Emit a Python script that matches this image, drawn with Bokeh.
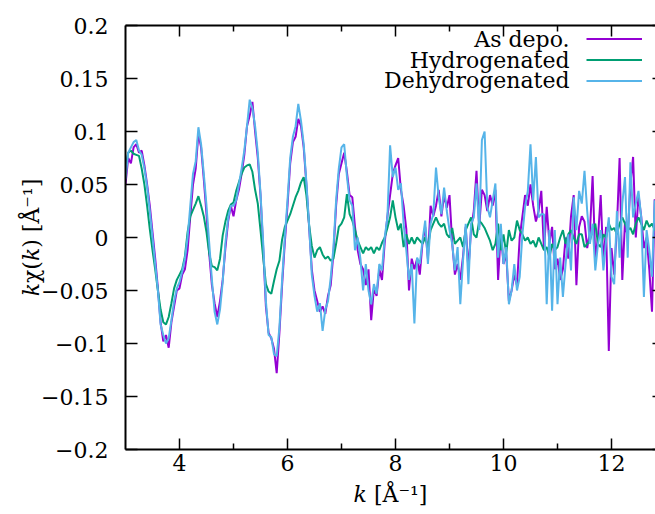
from bokeh.plotting import figure
from bokeh.models import LinearAxis, FixedTicker, Range1d, Label, Legend, LegendItem
from bokeh.embed import file_html
from bokeh.resources import INLINE

# k grid: spectra sampled every 0.05 1/Angstrom starting at k = 3
k_start = 3.0
k_step = 0.05

as_depo = [
    0.050, 0.075, 0.070, 0.085, 0.088, 0.080, 0.082, 0.068, 0.050, 0.030,
    0.005, -0.020, -0.048, -0.080, -0.098, -0.092, -0.104, -0.080, -0.065, -0.050,
    -0.048, -0.035, -0.030, -0.012, 0.020, 0.050, 0.065, 0.098, 0.085, 0.055,
    0.022, -0.015, -0.045, -0.062, -0.075, -0.060, -0.040, -0.010, 0.015, 0.030,
    0.020, 0.035, 0.045, 0.060, 0.078, 0.105, 0.115, 0.128, 0.100, 0.075,
    0.040, -0.010, -0.065, -0.090, -0.095, -0.105, -0.128, -0.090, -0.045, -0.005,
    0.030, 0.070, 0.090, 0.095, 0.112, 0.105, 0.085, 0.050, 0.010, -0.030,
    -0.050, -0.060, -0.070, -0.065, -0.072, -0.055, -0.045, -0.015, 0.030, 0.060,
    0.070, 0.080, 0.062, 0.040, 0.038, 0.010, -0.012, -0.025, -0.030, -0.045,
    -0.030, -0.078, -0.048, -0.055, -0.030, -0.040, -0.005, 0.020, 0.040, 0.060,
    0.068, 0.075, 0.045, 0.030, 0.008, -0.050, -0.020, -0.030, -0.020, -0.035,
    -0.005, 0.010, -0.020, 0.030, 0.020, 0.030, 0.045, 0.020, 0.040, 0.028,
    0.040, -0.005, -0.035, -0.025, -0.040, -0.018, 0.010, -0.030, 0.008, 0.025,
    0.063, 0.010, 0.045, 0.040, 0.025, 0.040, 0.030, 0.045, -0.040, 0.005,
    -0.025, -0.015, -0.060, -0.050, -0.035, -0.045, 0.000, 0.020, 0.040, 0.030,
    0.050, 0.030, 0.015, 0.025, 0.044, -0.012, 0.029, -0.005, 0.010, -0.030,
    -0.020, -0.040, -0.030, 0.000, -0.020, 0.020, 0.040, -0.045, 0.010, 0.020,
    0.015, -0.010, 0.005, 0.058, -0.020, 0.000, 0.040, -0.025, 0.010, -0.107,
    -0.010, -0.035, 0.010, 0.075, -0.040, 0.015, 0.000, 0.050, 0.076, 0.000,
    0.040, 0.020, -0.010, 0.000, -0.030, -0.070, 0.036, -0.040,
]

hydrogenated = [
    0.066, 0.080, 0.082, 0.079, 0.078, 0.077, 0.065, 0.050, 0.030, 0.008,
    -0.012, -0.030, -0.050, -0.068, -0.080, -0.082, -0.075, -0.062, -0.048, -0.040,
    -0.035, -0.030, -0.018, 0.005, 0.020, 0.026, 0.032, 0.039, 0.030, 0.020,
    0.005, -0.015, -0.027, -0.028, -0.031, -0.020, 0.002, 0.015, 0.025, 0.031,
    0.033, 0.044, 0.052, 0.060, 0.066, 0.068, 0.069, 0.062, 0.045, 0.032,
    0.007, -0.019, -0.044, -0.051, -0.053, -0.041, -0.030, -0.022, -0.002, 0.010,
    0.016, 0.022, 0.030, 0.038, 0.044, 0.052, 0.057, 0.040, 0.012, -0.008,
    -0.019, -0.012, -0.009, -0.016, -0.020, -0.018, -0.022, -0.020, -0.006, 0.010,
    0.013, 0.019, 0.041, 0.022, 0.016, 0.007, -0.003, -0.009, -0.015, -0.009,
    -0.012, -0.009, -0.015, -0.009, -0.012, -0.005, 0.000, 0.009, 0.019, 0.035,
    0.019, 0.007, 0.013, -0.009, 0.003, -0.006, 0.000, -0.006, 0.000, -0.003,
    -0.006, 0.000, -0.009, 0.007, 0.013, 0.019, 0.013, 0.010, 0.013, 0.003,
    0.000, 0.009, -0.006, -0.003, 0.000, -0.009, 0.007, 0.013, 0.019, 0.003,
    0.000, 0.016, 0.013, 0.009, 0.003, -0.003, -0.012, -0.006, 0.013, -0.012,
    0.003, -0.015, 0.007, -0.003, 0.000, 0.016, 0.007, 0.003, -0.003, 0.000,
    -0.006, -0.003, -0.009, 0.000, -0.006, -0.012, -0.009, -0.019, -0.006, -0.012,
    -0.009, 0.000, 0.007, -0.006, 0.003, 0.007, 0.000, -0.006, 0.003, 0.003,
    -0.009, -0.006, -0.003, 0.007, 0.013, -0.006, -0.009, 0.003, 0.000, 0.013,
    0.007, 0.009, 0.003, 0.013, 0.019, 0.013, 0.007, 0.009, 0.003, 0.013,
    0.019, 0.013, 0.007, 0.016, 0.010, 0.013, 0.007, 0.009,
]

dehydrogenated = [
    0.055, 0.080, 0.085, 0.090, 0.092, 0.082, 0.078, 0.065, 0.048, 0.025,
    0.000, -0.025, -0.050, -0.082, -0.092, -0.100, -0.095, -0.078, -0.060, -0.048,
    -0.042, -0.032, -0.020, 0.000, 0.030, 0.060, 0.072, 0.104, 0.088, 0.060,
    0.030, -0.005, -0.040, -0.070, -0.082, -0.068, -0.042, -0.005, 0.018, 0.030,
    0.030, 0.035, 0.050, 0.065, 0.082, 0.105, 0.130, 0.122, 0.105, 0.080,
    0.042, -0.005, -0.060, -0.092, -0.094, -0.110, -0.112, -0.085, -0.040, 0.000,
    0.035, 0.075, 0.095, 0.105, 0.126, 0.110, 0.088, 0.052, 0.012, -0.035,
    -0.055, -0.070, -0.062, -0.088, -0.068, -0.060, -0.038, -0.010, 0.035, 0.065,
    0.085, 0.088, 0.058, 0.035, 0.030, -0.012, 0.000, -0.020, -0.050, -0.025,
    -0.050, -0.063, -0.044, -0.053, -0.025, -0.031, 0.000, 0.019, 0.087, 0.057,
    0.066, 0.045, 0.051, 0.013, -0.012, -0.040, -0.025, -0.081, -0.019, -0.025,
    -0.003, 0.016, -0.025, 0.013, 0.022, 0.066, 0.038, 0.022, 0.047, 0.025,
    0.007, -0.006, -0.031, -0.009, -0.063, -0.022, 0.013, -0.044, 0.013, 0.019,
    0.051, 0.007, 0.092, 0.100, 0.029, 0.019, 0.035, 0.051, -0.019, 0.013,
    -0.025, -0.009, -0.063, -0.050, -0.025, -0.050, -0.037, 0.003, 0.029, 0.044,
    0.088, 0.035, 0.076, 0.019, 0.022, 0.022, -0.063, 0.007, -0.069, 0.007,
    -0.063, -0.019, -0.056, -0.025, 0.003, -0.031, 0.038, 0.007, 0.044, 0.032,
    0.063, 0.025, -0.006, 0.013, -0.031, -0.006, 0.007, -0.031, -0.003, 0.019,
    -0.037, -0.044, 0.025, -0.019, 0.032, 0.057, -0.019, 0.071, 0.019, 0.032,
    0.044, 0.019, -0.056, 0.007, -0.012, -0.037, 0.035, -0.010,
]

series_names = ["As depo.", "Hydrogenated", "Dehydrogenated"]
series_colors = ["#9400D3", "#009E73", "#56B4E9"]

x_major_ticks = [4, 6, 8, 10, 12]
x_minor_ticks = [5, 7, 9, 11]
y_ticks = [-0.2, -0.15, -0.1, -0.05, 0, 0.05, 0.1, 0.15, 0.2]
y_tick_labels = ["\u22120.2", "\u22120.15", "\u22120.1", "\u22120.05", "0",
                 "0.05", "0.1", "0.15", "0.2"]

x_title = "\U0001D458 [\u00C5\u207B\u00B9]"
y_title = "\U0001D458\u03C7(\U0001D458) [\u00C5\u207B\u00B9]"

FONT = "DejaVu Serif"
FS = "22px"

p = figure(width=655, height=514, output_backend="svg", toolbar_location=None,
           x_range=Range1d(3, 3 + 530 / 54), y_range=Range1d(-0.2, 0.2))
p.min_border_left = 125
p.min_border_right = 0
p.min_border_top = 25
p.min_border_bottom = 65
p.outline_line_color = None
p.grid.visible = False
p.background_fill_color = "white"
p.border_fill_color = "white"

renderers = []
for vals, color in zip([as_depo, hydrogenated, dehydrogenated], series_colors):
    ks = [round(k_start + i * k_step, 3) for i in range(len(vals))]
    r = p.line(ks, vals, line_color=color, line_width=2)
    renderers.append(r)

# bottom and top axes (gnuplot-style inward ticks)
xa = p.xaxis[0]
top = LinearAxis()
p.add_layout(top, "above")
for ax in (xa, top):
    ax.ticker = FixedTicker(ticks=x_major_ticks, minor_ticks=x_minor_ticks)
    ax.major_tick_in = 11
    ax.major_tick_out = 0
    ax.minor_tick_in = 6
    ax.minor_tick_out = 0
    ax.axis_line_width = 2
    ax.axis_line_color = "black"
    ax.major_tick_line_width = 1.5
    ax.minor_tick_line_width = 1.5
    ax.major_tick_line_color = "black"
    ax.minor_tick_line_color = "black"
    ax.major_label_text_font = FONT
    ax.major_label_text_font_size = FS
    ax.major_label_text_color = "black"
top.major_label_text_font_size = "0px"
top.major_label_text_color = None
top.major_label_text_alpha = 0
top.major_label_standoff = 0
xa.major_label_standoff = 5
xa.axis_label = x_title
xa.axis_label_text_font = FONT
xa.axis_label_text_font_size = FS
xa.axis_label_text_font_style = "normal"
xa.axis_label_text_color = "black"
xa.axis_label_standoff = 8

ya = p.yaxis[0]
ya.ticker = FixedTicker(ticks=y_ticks, minor_ticks=[])
ya.major_label_overrides = {t: s for t, s in zip(y_ticks, y_tick_labels)}
ya.major_tick_in = 12
ya.major_tick_out = 0
ya.minor_tick_in = 0
ya.minor_tick_out = 0
ya.axis_line_width = 2
ya.axis_line_color = "black"
ya.major_tick_line_width = 1.5
ya.major_tick_line_color = "black"
ya.major_label_text_font = FONT
ya.major_label_text_font_size = FS
ya.major_label_text_color = "black"
ya.major_label_standoff = 17
ya.axis_label = y_title
ya.axis_label_text_font = FONT
ya.axis_label_text_font_size = FS
ya.axis_label_text_font_style = "normal"
ya.axis_label_text_color = "black"
ya.axis_label_standoff = -6

# right axis: only the inner ends of its ticks show at the window's edge
right = LinearAxis(ticker=FixedTicker(ticks=y_ticks, minor_ticks=[]))
right.axis_line_color = None
right.major_tick_in = 3
right.major_tick_out = 0
right.minor_tick_in = 0
right.minor_tick_out = 0
right.major_tick_line_width = 1.5
right.major_tick_line_color = "black"
right.major_label_text_font_size = "0px"
right.major_label_text_color = None
right.major_label_text_alpha = 0
right.major_label_standoff = 0
p.add_layout(right, "right")

# key: sample lines (legend) with right-aligned texts to their left
legend = Legend(items=[LegendItem(label="", renderers=[r]) for r in renderers],
                location=(461, 358), glyph_width=56, glyph_height=21,
                label_width=0, label_height=0, label_standoff=0,
                label_text_font_size="0px", label_text_color=None,
                label_text_alpha=0, spacing=0, padding=0, margin=0,
                border_line_color=None, background_fill_alpha=0)
p.add_layout(legend)
for i, name in enumerate(series_names):
    p.add_layout(Label(x=444, y=410 - 20.5 * i, x_units="screen", y_units="screen",
                       text=name, text_align="right", text_baseline="middle",
                       text_font=FONT, text_font_size=FS, text_color="black"))

open("out.html", "w").write(file_html(p, INLINE))
